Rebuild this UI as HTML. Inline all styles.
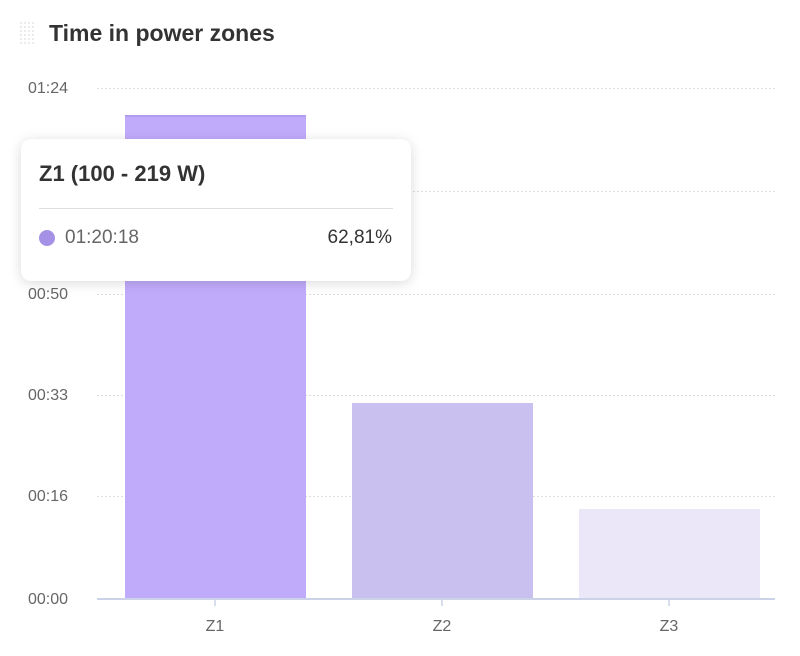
<!DOCTYPE html>
<html><head><style>
body{margin:0;width:800px;height:656px;background:#fff;font-family:"Liberation Sans",sans-serif;overflow:hidden;position:relative}
.t{position:absolute;left:49px;top:20px;font-size:23px;font-weight:bold;color:#333}
.yl{position:absolute;left:0;width:68px;text-align:right;font-size:16px;color:#666}
.xl{position:absolute;font-size:16px;color:#666;width:40px;text-align:center}
.tip{position:absolute;left:21px;top:139px;width:390px;height:142px;background:#fff;border-radius:10px;box-shadow:0 2px 12px rgba(0,0,0,.15)}
</style></head><body>
<svg width="800" height="656" style="position:absolute;left:0;top:0">
<g fill="#ccc">
<circle cx="21" cy="23" r=".7"/><circle cx="25" cy="23" r=".7"/><circle cx="29" cy="23" r=".7"/><circle cx="33" cy="23" r=".7"/>
<circle cx="21" cy="27" r=".7"/><circle cx="25" cy="27" r=".7"/><circle cx="29" cy="27" r=".7"/><circle cx="33" cy="27" r=".7"/>
<circle cx="21" cy="31" r=".7"/><circle cx="25" cy="31" r=".7"/><circle cx="29" cy="31" r=".7"/><circle cx="33" cy="31" r=".7"/>
<circle cx="21" cy="35" r=".7"/><circle cx="25" cy="35" r=".7"/><circle cx="29" cy="35" r=".7"/><circle cx="33" cy="35" r=".7"/>
<circle cx="21" cy="39" r=".7"/><circle cx="25" cy="39" r=".7"/><circle cx="29" cy="39" r=".7"/><circle cx="33" cy="39" r=".7"/>
<circle cx="21" cy="43" r=".7"/><circle cx="25" cy="43" r=".7"/><circle cx="29" cy="43" r=".7"/><circle cx="33" cy="43" r=".7"/>
</g>
<g stroke="#ddd" stroke-dasharray="2,2" stroke-width="1">
<line x1="97" y1="88.5" x2="775" y2="88.5"/><line x1="97" y1="191.5" x2="775" y2="191.5"/>
<line x1="97" y1="294.5" x2="775" y2="294.5"/><line x1="97" y1="395.5" x2="775" y2="395.5"/>
<line x1="97" y1="496.5" x2="775" y2="496.5"/>
</g>
<rect x="125" y="115" width="181" height="484" fill="#c0abfa"/>
<rect x="125" y="115" width="181" height="2" fill="#b09cf0"/>
<rect x="352" y="403" width="181" height="196" fill="#cac0f0"/>
<rect x="579" y="509" width="181" height="90" fill="#ebe7f9"/>
<line x1="97" y1="599" x2="775" y2="599" stroke="#ccd3e8" stroke-width="2"/>
<g stroke="#ccd3e8" stroke-width="1.5"><line x1="215" y1="599" x2="215" y2="606"/><line x1="442" y1="599" x2="442" y2="606"/><line x1="669" y1="599" x2="669" y2="606"/></g>
</svg>
<div class="t">Time in power zones</div>
<div class="yl" style="top:80px">01:24</div>
<div class="yl" style="top:286px">00:50</div>
<div class="yl" style="top:387px">00:33</div>
<div class="yl" style="top:488px">00:16</div>
<div class="yl" style="top:591px">00:00</div>
<div class="xl" style="left:195px;top:618px">Z1</div>
<div class="xl" style="left:422px;top:618px">Z2</div>
<div class="xl" style="left:649px;top:618px">Z3</div>
<div class="tip">
<div style="position:absolute;left:18px;top:22px;font-size:22px;font-weight:bold;color:#333">Z1 (100 - 219 W)</div>
<div style="position:absolute;left:18px;top:69px;width:354px;height:1px;background:#ddd"></div>
<div style="position:absolute;left:18px;top:91px;width:16px;height:16px;border-radius:50%;background:#a592e6"></div>
<div style="position:absolute;left:44px;top:88px;font-size:19px;color:#666">01:20:18</div>
<div style="position:absolute;right:19px;top:88px;font-size:19px;color:#333">62,81%</div>
</div>
</body></html>
